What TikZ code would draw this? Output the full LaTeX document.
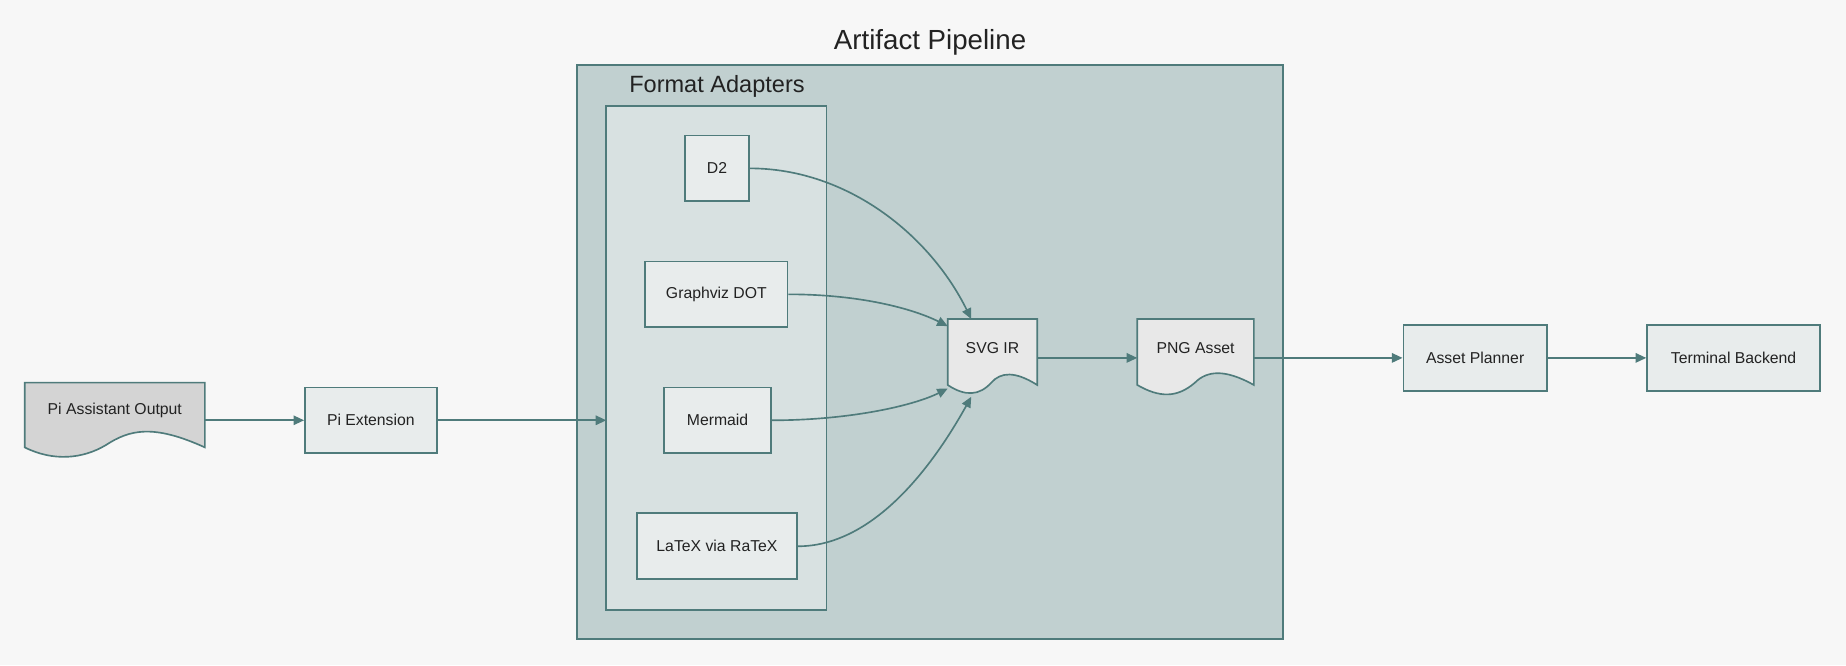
\documentclass[tikz,border=0pt]{standalone}
\usepackage{fontspec}
\setmainfont{Liberation Sans}
\usetikzlibrary{arrows.meta}
\definecolor{bg}{HTML}{F7F7F7}
\definecolor{ln}{HTML}{4F7B7B}
\definecolor{outer}{HTML}{C1D0D0}
\definecolor{inner}{HTML}{D8E1E1}
\definecolor{box}{HTML}{E8ECEC}
\definecolor{txt}{HTML}{222222}
\begin{document}
\begin{tikzpicture}[x=1pt,y=-1pt,
  bx/.style={draw=ln,line width=1.4pt,fill=box,text=txt,font=\fontsize{13.4}{16}\selectfont,inner sep=0pt},
  lbl/.style={text=txt,font=\fontsize{13.4}{16}\selectfont,inner sep=0pt},
  ar/.style={draw=ln,line width=1.4pt,-{Triangle[length=9pt,width=8pt]}}]
\fill[bg] (0,0) rectangle (1568,565);
\useasboundingbox (0,0) rectangle (1568,565);
% clusters
\draw[ln,line width=1.4pt,fill=outer] (490,55) rectangle (1090,543);
\node[text=txt,font=\fontsize{23.5}{28}\selectfont] (t1) at (790,36) {Artifact Pipeline};
\draw[ln,line width=1.4pt,fill=inner] (515,90) rectangle (702,518);
\coordinate (inl) at (515,357);
\node[text=txt,font=\fontsize{20}{24}\selectfont] (t2) at (609,73) {Format Adapters};
% doc shapes
\draw[ln,line width=1.4pt,fill=black!17] (21,325) -- (174,325) -- (174,380) .. controls (130,360) and (110,365) .. (90,378) .. controls (70,390) and (45,392) .. (21,380) -- cycle;
\node[lbl] (pa) at (97.5,349) {Pi Assistant Output};
\coordinate (pae) at (174,357);
\draw[ln,line width=1.4pt,fill=black!9] (805,271) -- (881,271) -- (881,327) .. controls (862,315) and (850,316) .. (842,325) .. controls (832,336) and (820,337) .. (805,327) -- cycle;
\node[lbl] (svg) at (843,296) {SVG IR};
\draw[ln,line width=1.4pt,fill=black!9] (966,271) -- (1065,271) -- (1065,327) .. controls (1040,313) and (1025,315) .. (1015,325) .. controls (1000,338) and (985,338) .. (966,327) -- cycle;
\node[lbl] (png) at (1015.5,296) {PNG Asset};
% boxes
\node[bx,minimum width=112pt,minimum height=56pt] (pe) at (315,357) {Pi Extension};
\node[bx,minimum width=54pt,minimum height=56pt] (d2) at (609,143) {D2};
\node[bx,minimum width=121pt,minimum height=56pt] (gv) at (608.5,250) {Graphviz DOT};
\node[bx,minimum width=91pt,minimum height=56pt] (mm) at (609.5,357) {Mermaid};
\node[bx,minimum width=136pt,minimum height=56pt] (lx) at (609,464) {LaTeX via RaTeX};
\node[bx,minimum width=122pt,minimum height=56pt] (ap) at (1253,304) {Asset Planner};
\node[bx,minimum width=147pt,minimum height=56pt] (tb) at (1472.5,304) {Terminal Backend};
\coordinate (svgt) at (825,271);
\coordinate (svgl) at (805,277);
\coordinate (svgl2) at (805,330);
\coordinate (svgb) at (825,337);
% arrows
\draw[ar] (pae) -- (pe.west);
\draw[ar] (pe.east) -- (inl);
\draw[ar] (d2.east) .. controls (720,143) and (790,200) .. (svgt);
\draw[ar] (gv.east) .. controls (730,250) and (775,262) .. (svgl);
\draw[ar] (mm.east) .. controls (720,357) and (775,345) .. (svgl2);
\draw[ar] (lx.east) .. controls (740,464) and (790,400) .. (svgb);
\draw[ar] (881,304) -- (966,304);
\draw[ar] (1065,304) -- (ap.west);
\draw[ar] (ap.east) -- (tb.west);
\end{tikzpicture}
\end{document}
